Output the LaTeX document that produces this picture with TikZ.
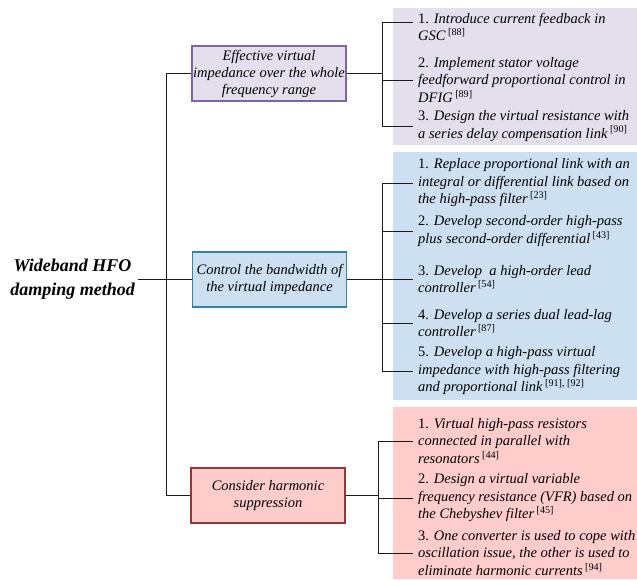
\documentclass[tikz,border=0pt]{standalone}
\usepackage{fontspec}
\setmainfont{Liberation Serif}
\definecolor{purfill}{HTML}{E4DFEC}
\definecolor{purdraw}{HTML}{8064A2}
\definecolor{blufill}{HTML}{CCE0F2}
\definecolor{bludraw}{HTML}{31849B}
\definecolor{redfill}{HTML}{FFCCCC}
\definecolor{reddraw}{HTML}{953735}
\definecolor{linec}{HTML}{1A1A1A}
\begin{document}
\begin{tikzpicture}[x=1pt,y=-1pt,
  conn/.style={draw=linec,line width=0.9pt},
  catbox/.style={draw,line width=1.2pt,minimum width=154pt,minimum height=55pt,align=center,inner sep=1pt,
    font=\fontsize{14.5}{17}\selectfont\itshape},
  item/.style={anchor=west,align=left,inner xsep=5pt,inner ysep=1pt,font=\fontsize{14.5}{17.5}\selectfont},
  rootnode/.style={align=center,inner sep=3pt,font=\fontsize{18}{24}\selectfont\bfseries\itshape}]
\useasboundingbox (0,0) rectangle (637,579);
% panels
\fill[purfill] (393,8) rectangle (637,145);
\fill[blufill] (393,152) rectangle (637,400);
\fill[redfill] (393,407) rectangle (637,579);
% root and category boxes
\node[rootnode,anchor=east] (root) at (138,279.5) {Wideband HFO\\damping method};
\node[catbox,draw=purdraw,fill=purfill] (b1) at (269,73.5) {Effective virtual\\impedance over the whole\\frequency range};
\node[catbox,draw=bludraw,fill=blufill] (b2) at (269.5,279.5) {Control the bandwidth of\\the virtual impedance};
\node[catbox,draw=reddraw,fill=redfill] (b3) at (268,495.5) {Consider harmonic\\suppression};
\coordinate (tx) at (166,0);
\coordinate (x1) at (382,0);
\coordinate (x2) at (382,0);
\coordinate (x3) at (378,0);
% items panel 1
\node[item] (i11) at (413,27) {1. \textit{Introduce current feedback in}\\\textit{GSC}\,\textsuperscript{[88]}};
\node[item] (i12) at (413,80) {2. \textit{Implement stator voltage}\\\textit{feedforward proportional control in}\\\textit{DFIG}\,\textsuperscript{[89]}};
\node[item] (i13) at (413,126) {3. \textit{Design the virtual resistance with}\\\textit{a series delay compensation link}\,\textsuperscript{[90]}};
% items panel 2
\node[item] (i21) at (413,183) {1. \textit{Replace proportional link with an}\\\textit{integral or differential link based on}\\\textit{the high-pass filter}\,\textsuperscript{[23]}};
\node[item] (i22) at (413,231) {2. \textit{Develop second-order high-pass}\\\textit{plus second-order differential}\,\textsuperscript{[43]}};
\node[item] (i23) at (413,279) {3. \textit{Develop\ \ a high-order lead}\\\textit{controller}\,\textsuperscript{[54]}};
\node[item] (i24) at (413,323) {4. \textit{Develop a series dual lead-lag}\\\textit{controller}\,\textsuperscript{[87]}};
\node[item] (i25) at (413,371) {5. \textit{Develop a high-pass virtual}\\\textit{impedance with high-pass filtering}\\\textit{and proportional link}\,\textsuperscript{[91], [92]}};
% items panel 3
\node[item] (i31) at (413,441) {1. \textit{Virtual high-pass resistors}\\\textit{connected in parallel with}\\\textit{resonators}\,\textsuperscript{[44]}};
\node[item] (i32) at (413,498) {2. \textit{Design a virtual variable}\\\textit{frequency resistance (VFR) based on}\\\textit{the Chebyshev filter}\,\textsuperscript{[45]}};
\node[item] (i33) at (413,553) {3. \textit{One converter is used to cope with}\\\textit{oscillation issue, the other is used to}\\\textit{eliminate harmonic currents}\,\textsuperscript{[94]}};
% trunk
\draw[conn] (root.east) -- (b2.west);
\draw[conn] (b1.west) -- (b1.west -| tx) -- (b3.west -| tx) -- (b3.west);
% panel 1 connectors
\draw[conn] (b1.east) -- (b1.east -| x1);
\draw[conn] ([yshift=5pt]i11.west) -- ([yshift=5pt]i11.west -| x1) |- (i13.west);
\draw[conn] (i12.west) -- (i12.west -| x1);
% panel 2 connectors
\draw[conn] (b2.east) -- (b2.east -| x2);
\draw[conn] (i21.west) -- (i21.west -| x2) |- (i25.west);
\draw[conn] (i22.west) -- (i22.west -| x2);
\draw[conn] (i23.west) -- (i23.west -| x2);
\draw[conn] (i24.west) -- (i24.west -| x2);
% panel 3 connectors
\draw[conn] (b3.east) -- (b3.east -| x3);
\draw[conn] (i31.west) -- (i31.west -| x3) |- (i33.west);
\draw[conn] (i32.west) -- (i32.west -| x3);
\end{tikzpicture}
\end{document}
